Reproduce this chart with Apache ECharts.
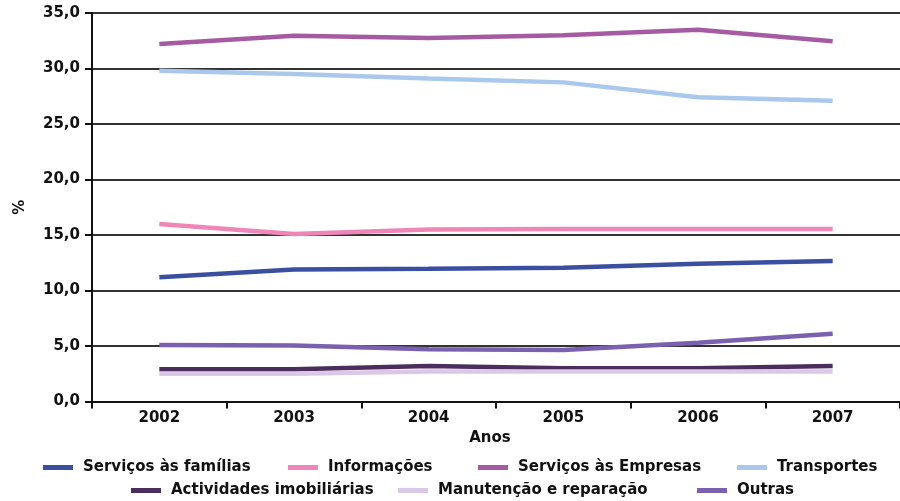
<!DOCTYPE html>
<html>
<head>
<meta charset="utf-8">
<script src="https://cdn.jsdelivr.net/npm/echarts@6/dist/echarts.min.js"></script>
<style>
  html, body { margin: 0; padding: 0; background: #fff; }
  #chart { width: 900px; height: 501px; }
</style>
</head>
<body>
<div id="chart"></div>
<script>
// Anos e séries (%)
const anos = ['2002', '2003', '2004', '2005', '2006', '2007'];
const yTickLabels = ['0,0', '5,0', '10,0', '15,0', '20,0', '25,0', '30,0', '35,0'];

const servicosFamilias  = [11.2, 11.9, 11.95, 12.05, 12.4, 12.65];
const informacoes       = [16.0, 15.1, 15.5, 15.55, 15.55, 15.55];
const servicosEmpresas  = [32.2, 32.95, 32.75, 33.0, 33.5, 32.45];
const transportes       = [29.8, 29.5, 29.1, 28.75, 27.4, 27.1];
const actividades       = [2.9, 2.9, 3.2, 3.0, 3.0, 3.2];
const manutencao        = [2.5, 2.5, 2.7, 2.7, 2.7, 2.7];
const outras            = [5.1, 5.05, 4.7, 4.65, 5.3, 6.1];

const seriesDefs = [
  { name: 'Serviços às famílias',     data: servicosFamilias, color: '#3b4fa0' },
  { name: 'Informações',              data: informacoes,      color: '#ef86ba' },
  { name: 'Serviços às Empresas',     data: servicosEmpresas, color: '#a55aa2' },
  { name: 'Transportes',              data: transportes,      color: '#a9c8ec' },
  { name: 'Actividades imobiliárias', data: actividades,      color: '#4b2d5e' },
  { name: 'Manutenção e reparação',   data: manutencao,       color: '#dbc7e6' },
  { name: 'Outras',                   data: outras,           color: '#7b60b0' }
];

const FONT = 'DejaVu Sans';
const labelStyle = { fontFamily: FONT, fontWeight: 'bold', fontSize: 15, color: '#111' };

// legend slots: [left, top]
const legendSlots = [
  [43, 460], [288, 460], [478, 460], [737, 460],
  [131, 483], [398, 483], [697, 483]
];

const chart = echarts.init(document.getElementById('chart'), null, { renderer: 'canvas' });

chart.setOption({
  backgroundColor: '#ffffff',
  animation: false,
  grid: { left: 92, top: 13, width: 812, height: 388.5, containLabel: false },
  legend: seriesDefs.map((s, i) => ({
    data: [s.name],
    left: legendSlots[i][0],
    top: legendSlots[i][1],
    icon: 'rect',
    itemWidth: 30,
    itemHeight: 5,
    padding: 0,
    selectedMode: false,
    textStyle: Object.assign({}, labelStyle, { padding: [0, 0, 0, 5] })
  })),
  xAxis: {
    type: 'category',
    data: anos,
    boundaryGap: true,
    name: 'Anos',
    nameLocation: 'middle',
    nameGap: 25,
    nameTextStyle: Object.assign({}, labelStyle, { padding: [0, 12, 0, 0] }),
    axisLine: { lineStyle: { color: '#111', width: 2 } },
    axisTick: { show: true, alignWithLabel: false, length: 7, lineStyle: { color: '#111', width: 2 } },
    axisLabel: Object.assign({ margin: 9 }, labelStyle),
    splitLine: { show: false }
  },
  yAxis: {
    type: 'value',
    min: 0,
    max: 35,
    interval: 5,
    name: '%',
    nameLocation: 'middle',
    nameGap: 64,
    nameRotate: 90,
    nameTextStyle: labelStyle,
    axisLine: { show: true, lineStyle: { color: '#111', width: 2 } },
    axisTick: { show: true, length: 7, lineStyle: { color: '#111', width: 2 } },
    axisLabel: Object.assign({
      margin: 12,
      formatter: (v) => yTickLabels[Math.round(v / 5)]
    }, labelStyle),
    splitLine: { show: true, lineStyle: { color: '#333', width: 2 } }
  },
  series: seriesDefs.map((s) => ({
    name: s.name,
    type: 'line',
    data: s.data,
    symbol: 'none',
    smooth: false,
    color: s.color,
    lineStyle: { color: s.color, width: 4.5 },
    itemStyle: { color: s.color }
  }))
});
</script>
</body>
</html>
